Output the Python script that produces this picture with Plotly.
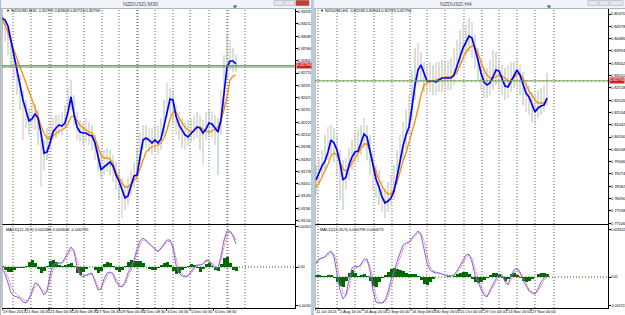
import plotly.graph_objects as go

# ======================= LEFT WINDOW : NZDUSD,M30 =======================
l_title = "NZDUSD,M30"
l_info = "\u25bc NZDUSD,M30  0.82773 0.82803 0.82723 0.82794"
l_macd_info = "MACD(12,26,9) 0.001381 0.000646 -0.000735"

l_blue = [0.8327, 0.8325, 0.8319, 0.8305, 0.8290, 0.8275, 0.8260, 0.8245, 0.8233, 0.8224,
          0.8226, 0.8231, 0.8227, 0.8212, 0.8192, 0.8193, 0.8202, 0.8213, 0.8217, 0.8220,
          0.8219, 0.8222, 0.8233, 0.8248, 0.8231, 0.8218, 0.8213, 0.8212, 0.8212, 0.8210,
          0.8209, 0.8202, 0.8189, 0.8175, 0.8178, 0.8181, 0.8183, 0.8179, 0.8170, 0.8164,
          0.8155, 0.8147, 0.8149, 0.8159, 0.8169, 0.8170, 0.8188, 0.8205, 0.8207, 0.8205,
          0.8202, 0.8205, 0.8202, 0.8206, 0.8219, 0.8234, 0.8246, 0.8245, 0.8229, 0.8220,
          0.8215, 0.8210, 0.8208, 0.8211, 0.8214, 0.8218, 0.8217, 0.8212, 0.8216, 0.8222,
          0.8221, 0.8217, 0.8213, 0.8225, 0.8253, 0.8278, 0.8284, 0.8284, 0.8281]
l_orange = [0.8326, 0.8320, 0.8312, 0.8303, 0.8295, 0.8287, 0.8278, 0.8270, 0.8262, 0.8254,
            0.8245, 0.8237, 0.8229, 0.8219, 0.8212, 0.8207, 0.8207, 0.8209, 0.8212, 0.8214,
            0.8215, 0.8217, 0.8221, 0.8228, 0.8229, 0.8224, 0.8220, 0.8217, 0.8215, 0.8213,
            0.8212, 0.8207, 0.8198, 0.8190, 0.8187, 0.8187, 0.8186, 0.8182, 0.8173, 0.8167,
            0.8162, 0.8158, 0.8158, 0.8161, 0.8165, 0.8168, 0.8176, 0.8185, 0.8193, 0.8196,
            0.8198, 0.8199, 0.8200, 0.8202, 0.8207, 0.8215, 0.8226, 0.8233, 0.8233, 0.8227,
            0.8222, 0.8218, 0.8215, 0.8213, 0.8214, 0.8217, 0.8218, 0.8216, 0.8214, 0.8213,
            0.8214, 0.8216, 0.8218, 0.8225, 0.8235, 0.8248, 0.8265, 0.8269, 0.8270]
l_high = [0.8330, 0.8325, 0.8317, 0.8307, 0.8295, 0.8283, 0.8270, 0.8255, 0.8245, 0.8237,
          0.8240, 0.8241, 0.8235, 0.8220, 0.8205, 0.8217, 0.8223, 0.8227, 0.8230, 0.8230,
          0.8233, 0.8240, 0.8257, 0.8265, 0.8250, 0.8233, 0.8225, 0.8223, 0.8227, 0.8223,
          0.8220, 0.8210, 0.8200, 0.8193, 0.8195, 0.8197, 0.8195, 0.8190, 0.8183, 0.8175,
          0.8167, 0.8160, 0.8167, 0.8175, 0.8183, 0.8197, 0.8213, 0.8220, 0.8220, 0.8217,
          0.8217, 0.8219, 0.8220, 0.8227, 0.8245, 0.8262, 0.8257, 0.8253, 0.8240, 0.8233,
          0.8227, 0.8223, 0.8225, 0.8227, 0.8230, 0.8233, 0.8230, 0.8225, 0.8233, 0.8235,
          0.8233, 0.8230, 0.8227, 0.8255, 0.8290, 0.8312, 0.8305, 0.8297, 0.8290]
l_low = [0.8315, 0.8303, 0.8290, 0.8277, 0.8265, 0.8250, 0.8235, 0.8205, 0.8217, 0.8210,
         0.8217, 0.8215, 0.8200, 0.8158, 0.8175, 0.8185, 0.8195, 0.8205, 0.8207, 0.8210,
         0.8210, 0.8217, 0.8227, 0.8235, 0.8220, 0.8205, 0.8203, 0.8200, 0.8203, 0.8200,
         0.8195, 0.8185, 0.8173, 0.8167, 0.8170, 0.8173, 0.8170, 0.8163, 0.8155, 0.8145,
         0.8127, 0.8135, 0.8140, 0.8150, 0.8157, 0.8163, 0.8180, 0.8195, 0.8197, 0.8193,
         0.8190, 0.8193, 0.8190, 0.8195, 0.8210, 0.8227, 0.8230, 0.8220, 0.8210, 0.8205,
         0.8197, 0.8195, 0.8199, 0.8203, 0.8205, 0.8207, 0.8195, 0.8180, 0.8205, 0.8209,
         0.8207, 0.8200, 0.8170, 0.8210, 0.8235, 0.8265, 0.8275, 0.8273, 0.8273]
l_macd = [-0.00008, -0.00056, -0.00128, -0.00208, -0.00232, -0.00240, -0.00248, -0.00280, -0.00288, -0.00256,
          -0.00184, -0.00128, -0.00136, -0.00184, -0.00224, -0.00192, -0.00064, 0.00016, 0.00032, 0.00032,
          0.00032, 0.00072, 0.00120, 0.00160, 0.00128, 0.00000, -0.00064, -0.00080, -0.00064, -0.00056,
          -0.00048, -0.00120, -0.00184, -0.00176, -0.00096, -0.00048, -0.00040, -0.00056, -0.00120, -0.00152,
          -0.00160, -0.00120, -0.00048, 0.00000, 0.00056, 0.00144, 0.00208, 0.00232, 0.00208, 0.00184,
          0.00160, 0.00136, 0.00120, 0.00152, 0.00184, 0.00216, 0.00216, 0.00152, 0.00016, -0.00048,
          -0.00072, -0.00080, -0.00072, -0.00040, 0.00000, 0.00016, 0.00016, 0.00024, 0.00056, 0.00048,
          0.00016, -0.00008, -0.00008, 0.00088, 0.00216, 0.00288, 0.00288, 0.00248, 0.00184]
l_signal = [0.00008, -0.00024, -0.00080, -0.00152, -0.00200, -0.00224, -0.00240, -0.00256, -0.00272, -0.00264,
            -0.00216, -0.00160, -0.00144, -0.00168, -0.00200, -0.00200, -0.00112, -0.00024, 0.00016, 0.00032,
            0.00032, 0.00056, 0.00096, 0.00136, 0.00136, 0.00056, -0.00032, -0.00064, -0.00072, -0.00064,
            -0.00056, -0.00096, -0.00160, -0.00176, -0.00128, -0.00072, -0.00048, -0.00048, -0.00096, -0.00136,
            -0.00152, -0.00136, -0.00080, -0.00024, 0.00032, 0.00104, 0.00176, 0.00216, 0.00216, 0.00192,
            0.00168, 0.00144, 0.00128, 0.00144, 0.00168, 0.00200, 0.00208, 0.00176, 0.00072, -0.00016,
            -0.00056, -0.00072, -0.00072, -0.00056, -0.00016, 0.00008, 0.00016, 0.00024, 0.00040, 0.00048,
            0.00032, 0.00008, -0.00008, 0.00056, 0.00168, 0.00256, 0.00280, 0.00264, 0.00216]
l_hist = [0.00008, -0.00024, -0.00040, -0.00040, -0.00024, -0.00008, -0.00008, -0.00008, 0.00008, 0.00040,
          0.00056, 0.00032, -0.00016, -0.00048, -0.00032, 0.00008, 0.00048, 0.00056, 0.00040, 0.00016,
          0.00008, 0.00016, 0.00024, 0.00032, 0.00008, -0.00048, -0.00064, -0.00040, -0.00016, 0.00000,
          0.00000, -0.00024, -0.00048, -0.00032, 0.00024, 0.00040, 0.00032, 0.00008, -0.00024, -0.00040,
          -0.00024, 0.00008, 0.00040, 0.00056, 0.00048, 0.00048, 0.00048, 0.00032, 0.00000, -0.00016,
          -0.00024, -0.00024, -0.00008, 0.00016, 0.00032, 0.00040, 0.00016, -0.00032, -0.00056, -0.00048,
          -0.00024, -0.00008, 0.00008, 0.00024, 0.00016, -0.00008, -0.00040, -0.00016, 0.00024, 0.00032,
          0.00008, -0.00024, -0.00032, 0.00024, 0.00072, 0.00080, 0.00032, -0.00024, -0.00032]
l_price_ticks = [0.83335, 0.83212, 0.83089, 0.82966, 0.82843, 0.82720, 0.82597, 0.82474, 0.82351,
                 0.82228, 0.82105, 0.81982, 0.81859, 0.81736, 0.81613, 0.81490, 0.81367, 0.81244]
l_macd_ticks = [0.003212, 0.0, -0.003091]
l_macd_ticktext = ["0.003212", "0.00", "-0.003091"]
l_dates = ["19 Nov 2013", "21 Nov 16:30", "25 Nov 00:30", "26 Nov 08:30", "27 Nov 16:30",
           "29 Nov 00:30", "2 Dec 08:30", "3 Dec 16:30", "5 Dec 00:30", "6 Dec 08:30"]
l_date_pos = [0, 7.83, 15.67, 23.5, 31.33, 39.17, 47, 54.83, 62.67, 70.5]
l_separators = [3.67, 9.67, 15.67, 16.33, 21.67, 27.33, 33.33, 39, 45, 45.33, 51, 57, 62.67, 69, 75, 75.33, 81]
l_bid = 0.82794
l_level = 0.8278

# ======================= RIGHT WINDOW : NZDUSD,H4 =======================
r_title = "NZDUSD,H4"
r_info = "\u25bc NZDUSD,H4  0.82538 0.82944 0.82723 0.82794"
r_macd_info = "MACD(12,26,9) 0.000799 0.000673"

r_blue = [0.7883, 0.7911, 0.7939, 0.7959, 0.7995, 0.8043, 0.8031, 0.8003, 0.7951, 0.7883,
          0.7895, 0.7943, 0.7975, 0.7995, 0.7999, 0.8031, 0.8067, 0.8055, 0.8003, 0.7943,
          0.7887, 0.7855, 0.7815, 0.7791, 0.7799, 0.7811, 0.7839, 0.7895, 0.7963, 0.8019,
          0.8063, 0.8095, 0.8175, 0.8263, 0.8323, 0.8343, 0.8311, 0.8279, 0.8279, 0.8279,
          0.8275, 0.8283, 0.8291, 0.8291, 0.8291, 0.8291, 0.8303, 0.8335, 0.8375, 0.8411,
          0.8435, 0.8459, 0.8451, 0.8411, 0.8363, 0.8311, 0.8275, 0.8263, 0.8271, 0.8295,
          0.8323, 0.8319, 0.8291, 0.8259, 0.8255, 0.8279, 0.8303, 0.8323, 0.8303, 0.8267,
          0.8231, 0.8215, 0.8183, 0.8155, 0.8171, 0.8179, 0.8183, 0.8211]
r_orange = [0.7855, 0.7871, 0.7895, 0.7919, 0.7947, 0.7979, 0.7991, 0.7983, 0.7955, 0.7927,
            0.7919, 0.7931, 0.7951, 0.7971, 0.7991, 0.8007, 0.8027, 0.8027, 0.7999, 0.7951,
            0.7915, 0.7883, 0.7859, 0.7839, 0.7827, 0.7827, 0.7847, 0.7875, 0.7915, 0.7959,
            0.7991, 0.8031, 0.8071, 0.8119, 0.8167, 0.8223, 0.8263, 0.8271, 0.8275, 0.8279,
            0.8283, 0.8287, 0.8291, 0.8295, 0.8295, 0.8295, 0.8303, 0.8315, 0.8343, 0.8371,
            0.8395, 0.8411, 0.8419, 0.8415, 0.8391, 0.8355, 0.8323, 0.8303, 0.8291, 0.8291,
            0.8295, 0.8303, 0.8299, 0.8291, 0.8279, 0.8283, 0.8291, 0.8307, 0.8307, 0.8291,
            0.8263, 0.8239, 0.8223, 0.8203, 0.8191, 0.8191, 0.8191, 0.8199]
r_high = [0.7943, 0.7971, 0.8003, 0.8063, 0.8095, 0.8103, 0.8091, 0.8063, 0.8003, 0.7963,
          0.7971, 0.8011, 0.8043, 0.8075, 0.8083, 0.8103, 0.8131, 0.8103, 0.8063, 0.8003,
          0.7943, 0.7923, 0.7883, 0.7851, 0.7875, 0.7903, 0.7943, 0.8003, 0.8063, 0.8115,
          0.8163, 0.8223, 0.8323, 0.8411, 0.8431, 0.8395, 0.8355, 0.8343, 0.8355, 0.8343,
          0.8355, 0.8355, 0.8363, 0.8355, 0.8363, 0.8371, 0.8411, 0.8443, 0.8483, 0.8511,
          0.8503, 0.8531, 0.8515, 0.8463, 0.8411, 0.8363, 0.8331, 0.8331, 0.8363, 0.8403,
          0.8395, 0.8363, 0.8343, 0.8331, 0.8343, 0.8355, 0.8355, 0.8363, 0.8343, 0.8315,
          0.8275, 0.8263, 0.8235, 0.8223, 0.8243, 0.8251, 0.8263, 0.8311]
r_low = [0.7823, 0.7863, 0.7891, 0.7923, 0.7963, 0.7983, 0.7955, 0.7903, 0.7803, 0.7763,
         0.7843, 0.7883, 0.7923, 0.7943, 0.7955, 0.7983, 0.8011, 0.7963, 0.7903, 0.7843,
         0.7811, 0.7783, 0.7755, 0.7731, 0.7755, 0.7783, 0.7803, 0.7863, 0.7923, 0.7963,
         0.8011, 0.8063, 0.8123, 0.8203, 0.8263, 0.8275, 0.8235, 0.8223, 0.8235, 0.8223,
         0.8223, 0.8235, 0.8235, 0.8235, 0.8243, 0.8243, 0.8263, 0.8303, 0.8331, 0.8363,
         0.8383, 0.8395, 0.8371, 0.8331, 0.8283, 0.8243, 0.8211, 0.8211, 0.8223, 0.8243,
         0.8263, 0.8251, 0.8223, 0.8203, 0.8211, 0.8235, 0.8251, 0.8243, 0.8223, 0.8183,
         0.8155, 0.8143, 0.8115, 0.8103, 0.8131, 0.8143, 0.8155, 0.8183]
r_macd = [0.0026, 0.0036, 0.0038, 0.0040, 0.0048, 0.0052, 0.0040, 0.0010, -0.0026, -0.0044,
          -0.0036, -0.0006, 0.0018, 0.0022, 0.0020, 0.0026, 0.0036, 0.0036, 0.0012, -0.0028,
          -0.0050, -0.0052, -0.0052, -0.0046, -0.0030, -0.0006, 0.0010, 0.0030, 0.0048, 0.0064,
          0.0068, 0.0070, 0.0078, 0.0084, 0.0092, 0.0084, 0.0058, 0.0028, 0.0014, 0.0010,
          0.0008, 0.0008, 0.0006, 0.0004, 0.0002, 0.0002, 0.0004, 0.0012, 0.0022, 0.0034,
          0.0044, 0.0046, 0.0030, 0.0004, -0.0012, -0.0024, -0.0036, -0.0040, -0.0026, -0.0014,
          -0.0004, 0.0006, 0.0004, -0.0010, -0.0016, 0.0002, 0.0014, 0.0018, 0.0008, -0.0006,
          -0.0018, -0.0028, -0.0032, -0.0034, -0.0024, -0.0010, -0.0002, 0.0002]
r_signal = [0.0030, 0.0034, 0.0038, 0.0040, 0.0044, 0.0048, 0.0046, 0.0028, -0.0006, -0.0032,
            -0.0038, -0.0022, 0.0006, 0.0018, 0.0020, 0.0022, 0.0030, 0.0034, 0.0024, -0.0008,
            -0.0038, -0.0050, -0.0052, -0.0050, -0.0038, -0.0018, 0.0002, 0.0020, 0.0038, 0.0056,
            0.0064, 0.0068, 0.0074, 0.0080, 0.0088, 0.0088, 0.0072, 0.0044, 0.0020, 0.0012,
            0.0010, 0.0008, 0.0006, 0.0004, 0.0004, 0.0002, 0.0002, 0.0008, 0.0016, 0.0028,
            0.0038, 0.0044, 0.0038, 0.0018, -0.0004, -0.0018, -0.0030, -0.0038, -0.0032, -0.0020,
            -0.0010, 0.0000, 0.0004, -0.0004, -0.0014, -0.0006, 0.0008, 0.0016, 0.0012, 0.0000,
            -0.0012, -0.0024, -0.0030, -0.0034, -0.0028, -0.0016, -0.0006, 0.0000]
r_hist = [0.0004, 0.0004, 0.0002, 0.0002, 0.0004, 0.0004, -0.0002, -0.0010, -0.0018, -0.0020,
          -0.0008, 0.0008, 0.0014, 0.0008, 0.0002, 0.0004, 0.0006, 0.0002, -0.0008, -0.0018,
          -0.0020, -0.0010, -0.0002, 0.0004, 0.0010, 0.0016, 0.0018, 0.0016, 0.0014, 0.0012,
          0.0008, 0.0006, 0.0006, 0.0006, 0.0002, -0.0006, -0.0014, -0.0016, -0.0010, -0.0004,
          0.0000, 0.0000, 0.0000, 0.0000, 0.0002, 0.0000, 0.0002, 0.0006, 0.0008, 0.0010,
          0.0010, 0.0006, -0.0004, -0.0010, -0.0012, -0.0010, -0.0006, -0.0002, 0.0004, 0.0008,
          0.0008, 0.0006, -0.0002, -0.0008, -0.0004, 0.0006, 0.0008, 0.0004, -0.0002, -0.0008,
          -0.0010, -0.0008, -0.0004, 0.0000, 0.0006, 0.0008, 0.0008, 0.0006]
r_price_ticks = [0.85470, 0.84978, 0.84486, 0.83994, 0.83502, 0.83010, 0.82518, 0.82026, 0.81534,
                 0.81042, 0.80550, 0.80058, 0.79566, 0.79074, 0.78582, 0.78090, 0.77598, 0.77106]
r_macd_ticks = [0.009422, 0.0, -0.005722]
r_macd_ticktext = ["0.009422", "0.00", "-0.005722"]
r_dates = ["11 Jul 2013", "2 Aug 16:00", "16 Aug 20:00", "2 Sep 00:00", "16 Sep 08:00",
           "30 Sep 16:00", "15 Oct 00:00", "29 Oct 04:00", "13 Nov 16:00", "27 Nov 00:00"]
r_date_pos = [-0.33, 7.67, 15.67, 23.67, 31.67, 39.67, 47.67, 55.67, 63.67, 71.67]
r_separators = [0.67, 7, 13, 19.33, 25.33, 31.33, 37, 43, 49.33, 55.33, 61, 67, 73, 79.33]
r_bid = 0.82794

# ======================= layout geometry (pixels) =======================
W, H = 625, 315
PRICE_TOP, PRICE_BOT = 9, 224
MACD_TOP, MACD_BOT = 225, 308
L_X0, L_X1 = 2, 295
R_X0, R_X1 = 315, 608
FONT = "Liberation Sans"


def fx(p):
    return p / W


def fy(p):
    return 1 - p / H


fig = go.Figure()


def add_window(xp, yp, xm, ym, blue, orange, high, low, macd, signal, hist):
    n = min(len(blue), len(orange), len(high), len(low))
    xs = list(range(n))
    palette = ["rgb(150,205,150)", "rgb(225,182,188)", "rgb(185,190,185)"]
    for c in range(3):
        X, Y = [], []
        for i in range(c, n, 3):
            X += [xs[i], xs[i], None]
            Y += [low[i], high[i], None]
        fig.add_trace(go.Scatter(x=X, y=Y, mode="lines", xaxis=xp, yaxis=yp,
                                 line=dict(color=palette[c], width=1), hoverinfo="skip"))
    fig.add_trace(go.Scatter(x=xs, y=orange[:n], mode="lines", xaxis=xp, yaxis=yp,
                             line=dict(color="rgb(255,140,0)", width=1.3), hoverinfo="skip"))
    fig.add_trace(go.Scatter(x=xs, y=blue[:n], mode="lines", xaxis=xp, yaxis=yp,
                             line=dict(color="rgb(0,0,255)", width=1.7), hoverinfo="skip"))
    m = min(len(macd), len(signal), len(hist))
    xm_s = list(range(m))
    fig.add_trace(go.Bar(x=xm_s, y=hist[:m], width=1.0, xaxis=xm, yaxis=ym,
                         marker=dict(color="rgb(0,105,0)", line=dict(width=0)), hoverinfo="skip"))
    fig.add_trace(go.Scatter(x=xm_s, y=signal[:m], mode="lines", xaxis=xm, yaxis=ym,
                             line=dict(color="rgb(255,70,70)", width=1, dash="1px,1px"), hoverinfo="skip"))
    fig.add_trace(go.Scatter(x=xm_s, y=macd[:m], mode="lines", xaxis=xm, yaxis=ym,
                             line=dict(color="rgb(115,105,255)", width=1), hoverinfo="skip"))


add_window("x", "y", "x2", "y2", l_blue, l_orange, l_high, l_low, l_macd, l_signal, l_hist)
add_window("x3", "y3", "x4", "y4", r_blue, r_orange, r_high, r_low, r_macd, r_signal, r_hist)


def xax(x0, x1, rng, anchor, matches=None):
    d = dict(domain=[fx(x0), fx(x1)], range=rng, anchor=anchor, showgrid=False, zeroline=False,
             showticklabels=False, ticks="", showline=True, linecolor="black", linewidth=1,
             fixedrange=True, automargin=False)
    if matches:
        d["matches"] = matches
    return d


def yax(ytop, ybot, rng, anchor, tv, tt, size=4.0):
    return dict(domain=[fy(ybot), fy(ytop)], range=rng, anchor=anchor, side="right",
                showgrid=False, zeroline=False, showline=True, linecolor="black", linewidth=1,
                ticks="outside", ticklen=2, tickwidth=1, tickcolor="black",
                ticklabelstandoff=-1,
                tickvals=tv, ticktext=tt, tickfont=dict(size=size, color="black", family=FONT),
                fixedrange=True, automargin=False)


l_rng = [0, (L_X1 - L_X0) / 3]
r_rng = [(R_X0 - 316) / 3, (R_X1 - 316) / 3]

fig.update_layout(
    width=W, height=H, margin=dict(l=0, r=0, t=0, b=0),
    paper_bgcolor="white", plot_bgcolor="rgba(0,0,0,0)",
    showlegend=False, hovermode=False, bargap=0,
    font=dict(family=FONT, size=4, color="black"),
    xaxis=xax(L_X0, L_X1, l_rng, "y"),
    xaxis2=xax(L_X0, L_X1, l_rng, "y2", "x"),
    xaxis3=xax(R_X0, R_X1, r_rng, "y3"),
    xaxis4=xax(R_X0, R_X1, r_rng, "y4", "x3"),
    yaxis=yax(PRICE_TOP, PRICE_BOT, [0.8121, 0.8336], "x",
              l_price_ticks, ["%.5f" % v for v in l_price_ticks]),
    yaxis2=yax(MACD_TOP, MACD_BOT, [-0.00328, 0.00336], "x2", l_macd_ticks, l_macd_ticktext, 3.7),
    yaxis3=yax(PRICE_TOP, PRICE_BOT, [0.7707, 0.8567], "x3",
               r_price_ticks, ["%.5f" % v for v in r_price_ticks]),
    yaxis4=yax(MACD_TOP, MACD_BOT, [-0.0062, 0.0104], "x4", r_macd_ticks, r_macd_ticktext, 3.5),
)

shapes = []
annotations = []


def prect(x0, y0, x1, y1, fill, lc=None, lw=0, layer="above"):
    shapes.append(dict(type="rect", xref="paper", yref="paper", x0=fx(x0), x1=fx(x1),
                       y0=fy(y1), y1=fy(y0), fillcolor=fill, layer=layer,
                       line=dict(color=lc or fill, width=lw)))


def pline(x0, y0, x1, y1, color, width=1, dash=None, layer="above"):
    ln = dict(color=color, width=width)
    if dash:
        ln["dash"] = dash
    shapes.append(dict(type="line", xref="paper", yref="paper", x0=fx(x0), x1=fx(x1),
                       y0=fy(y0), y1=fy(y1), line=ln, layer=layer))


# window chrome
for (wx0, wx1, title, tcx, active) in [(0, 311, l_title, 140, True), (313, 625, r_title, 455, False)]:
    prect(wx0, 0, wx1, 8.5, "rgb(240,243,248)")
    pline(wx0, 8.5, wx1, 8.5, "rgb(170,180,195)")
    annotations.append(dict(x=fx(tcx), y=fy(4.2), xref="paper", yref="paper", text=title,
                            showarrow=False, xanchor="center", yanchor="middle",
                            font=dict(size=5.5, color="rgb(80,80,80)", family=FONT)))
    bx = wx1 - 37
    prect(bx, 0.5, bx + 10, 5.5, "rgb(228,230,234)", "rgb(160,165,175)", 0.5)
    prect(bx + 11, 0.5, bx + 21, 5.5, "rgb(228,230,234)", "rgb(160,165,175)", 0.5)
    prect(bx + 22, 0.5, bx + 35, 5.5, "rgb(200,60,50)" if active else "rgb(228,230,234)",
          "rgb(150,60,50)" if active else "rgb(160,165,175)", 0.5)

pline(0.5, 0, 0.5, 315, "rgb(170,190,210)")
prect(311, 0, 314, 315, "rgb(180,205,230)")
pline(L_X0, PRICE_TOP, L_X0, MACD_BOT, "rgb(140,140,140)")
pline(R_X0, PRICE_TOP, R_X0, MACD_BOT, "rgb(140,140,140)")

# period separators (dotted)
for xref, seps in [("x", l_separators), ("x3", r_separators)]:
    for s in seps:
        shapes.append(dict(type="line", xref=xref, x0=s, x1=s, yref="paper",
                           y0=fy(MACD_BOT), y1=fy(PRICE_TOP), layer="below",
                           line=dict(color="rgb(95,95,95)", width=1, dash="1px,2px")))

# MACD zero lines (dotted green)
for xr, yr in [("x2", "y2"), ("x4", "y4")]:
    shapes.append(dict(type="line", xref=xr + " domain", x0=0, x1=1, yref=yr, y0=0, y1=0,
                       layer="below", line=dict(color="rgb(0,120,0)", width=1, dash="1px,2px")))

# price level lines
shapes.append(dict(type="line", xref="x domain", x0=0, x1=1, yref="y", y0=l_bid, y1=l_bid,
                   line=dict(color="rgb(185,110,110)", width=1)))
shapes.append(dict(type="line", xref="x domain", x0=0, x1=1, yref="y", y0=l_level, y1=l_level,
                   line=dict(color="rgb(70,165,70)", width=1)))
shapes.append(dict(type="line", xref="x3 domain", x0=0, x1=1, yref="y3", y0=r_bid, y1=r_bid,
                   line=dict(color="rgb(70,170,70)", width=1)))
shapes.append(dict(type="line", xref="x3 domain", x0=0, x1=1, yref="y3", y0=r_bid, y1=r_bid,
                   line=dict(color="rgb(230,90,90)", width=1, dash="1px,3px")))

# bid price labels on the axes
for x0p, yref, val in [(L_X1 + 1, "y", l_bid), (R_X1 + 1, "y3", r_bid)]:
    annotations.append(dict(x=fx(x0p), xref="paper", y=val, yref=yref, text="%.5f" % val,
                            showarrow=False, xanchor="left", yanchor="middle",
                            bgcolor="rgb(205,35,35)", borderpad=0.3,
                            font=dict(size=3.8, color="white", family=FONT)))

# shift markers at top
for xp in [235, 549]:
    shapes.append(dict(type="path", xref="paper", yref="paper",
                       path="M %f,%f L %f,%f L %f,%f Z" % (fx(xp - 2), fy(5.5), fx(xp + 2), fy(5.5),
                                                           fx(xp), fy(8.5)),
                       fillcolor="rgb(0,120,40)", line=dict(width=0)))

# info labels
for x0p, txt, yp in [(4, l_info, 11), (4, l_macd_info, 229), (318, r_info, 11), (318, r_macd_info, 229)]:
    annotations.append(dict(x=fx(x0p), y=fy(yp), xref="paper", yref="paper", text=txt,
                            showarrow=False, xanchor="left", yanchor="middle",
                            font=dict(size=4, color="black", family=FONT)))

# date labels and ticks on bottom axes
for xr, dates, pos in [("x2", l_dates, l_date_pos), ("x4", r_dates, r_date_pos)]:
    for t, p in zip(dates, pos):
        annotations.append(dict(x=p, xref=xr, y=fy(311.8), yref="paper", text=t, showarrow=False,
                                xanchor="left", yanchor="middle", xshift=-1,
                                font=dict(size=4, color="black", family=FONT)))
        shapes.append(dict(type="line", xref=xr, x0=p, x1=p, yref="paper", y0=fy(MACD_BOT),
                           y1=fy(MACD_BOT + 2.5), line=dict(color="black", width=1)))

fig.update_layout(shapes=shapes, annotations=annotations)
fig.write_html("out.html")
